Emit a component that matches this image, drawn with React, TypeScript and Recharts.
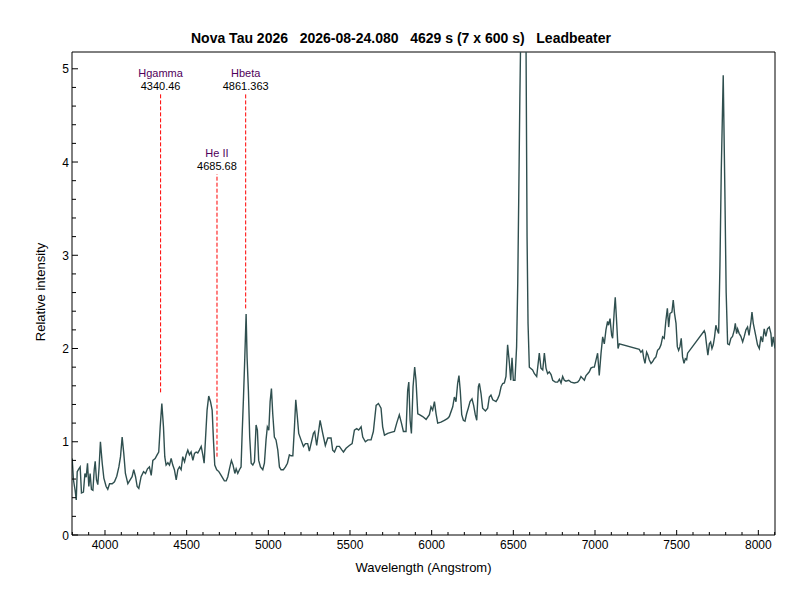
import React from 'react';
import { LineChart, Line, XAxis, YAxis, ReferenceLine } from 'recharts';

const FONT = '"Liberation Sans", Arial, sans-serif';
const TITLE = 'Nova Tau 2026   2026-08-24.080   4629 s (7 x 600 s)   Leadbeater';
const X_LABEL = 'Wavelength (Angstrom)';
const Y_LABEL = 'Relative intensity';

const X_MIN = 3798;
const X_MAX = 8102;
const Y_MIN = 0;
const Y_MAX = 5.18;

const X_MAJOR_TICKS = [4000, 4500, 5000, 5500, 6000, 6500, 7000, 7500, 8000];
const X_MINOR_STEP = 100;
const Y_MAJOR_TICKS = [0, 1, 2, 3, 4, 5];
const Y_MINOR_STEP = 0.2;

// layout
const CHART_W = 800;
const CHART_H = 600;
const MARGIN = { top: 52, right: 25, bottom: 0, left: 0 };
const Y_AXIS_W = 72;
const X_AXIS_H = 65;
const PLOT_LEFT = MARGIN.left + Y_AXIS_W;
const PLOT_BOTTOM = CHART_H - MARGIN.bottom - X_AXIS_H;

// Spectrum: wavelength (Angstrom) and relative intensity
const WAVELENGTH = [
  3799, 3807, 3817, 3824, 3830, 3840, 3848, 3856, 3868, 3877, 3885, 3893, 3901, 3909, 3917, 3926,
  3934, 3940, 3948, 3956, 3964, 3972, 3983, 3993, 4007, 4017, 4028, 4044, 4058, 4072, 4085, 4095,
  4105, 4115, 4125, 4140, 4154, 4166, 4176, 4187, 4197, 4207, 4221, 4236, 4248, 4260, 4272, 4283,
  4293, 4307, 4319, 4329, 4338, 4348, 4358, 4366, 4374, 4385, 4395, 4405, 4415, 4425, 4436, 4446,
  4456, 4466, 4476, 4487, 4497, 4507, 4517, 4527, 4538, 4548, 4558, 4568, 4578, 4589, 4599, 4607,
  4615, 4625, 4635, 4646, 4656, 4664, 4672, 4684, 4697, 4711, 4721, 4731, 4742, 4752, 4762, 4774,
  4784, 4795, 4803, 4813, 4823, 4833, 4839, 4848, 4856, 4864, 4870, 4878, 4886, 4895, 4905, 4915,
  4925, 4933, 4941, 4952, 4966, 4976, 4986, 4994, 5003, 5011, 5019, 5027, 5037, 5047, 5058, 5068,
  5078, 5092, 5105, 5117, 5129, 5139, 5150, 5160, 5168, 5176, 5186, 5200, 5215, 5227, 5241, 5251,
  5276, 5284, 5296, 5317, 5333, 5349, 5364, 5384, 5394, 5405, 5419, 5435, 5451, 5460, 5476, 5496,
  5513, 5527, 5541, 5553, 5568, 5578, 5594, 5609, 5629, 5643, 5660, 5674, 5690, 5700, 5711, 5731,
  5751, 5772, 5786, 5802, 5815, 5827, 5843, 5853, 5860, 5868, 5876, 5886, 5896, 5904, 5915, 5925,
  5945, 5966, 5986, 5996, 6006, 6017, 6027, 6037, 6057, 6078, 6098, 6108, 6129, 6139, 6149, 6159,
  6167, 6175, 6184, 6194, 6204, 6214, 6224, 6235, 6247, 6257, 6267, 6276, 6286, 6292, 6302, 6312,
  6329, 6343, 6353, 6363, 6374, 6394, 6404, 6414, 6425, 6435, 6445, 6455, 6465, 6476, 6484, 6492,
  6500, 6510, 6520, 6527, 6533, 6540, 6547, 6562, 6577, 6584, 6590, 6598, 6618, 6629, 6643, 6659,
  6669, 6680, 6690, 6700, 6710, 6720, 6731, 6741, 6757, 6771, 6782, 6792, 6802, 6812, 6822, 6839,
  6853, 6873, 6894, 6904, 6914, 6924, 6935, 6945, 6955, 6965, 6975, 6986, 6996, 7006, 7016, 7026,
  7037, 7047, 7057, 7067, 7077, 7083, 7092, 7102, 7108, 7118, 7124, 7132, 7141, 7149, 7271, 7281,
  7291, 7298, 7306, 7316, 7324, 7332, 7343, 7353, 7363, 7373, 7383, 7394, 7404, 7414, 7424, 7434,
  7443, 7451, 7459, 7471, 7479, 7487, 7496, 7504, 7512, 7520, 7528, 7536, 7545, 7553, 7561, 7567,
  7669, 7675, 7683, 7691, 7700, 7708, 7716, 7724, 7732, 7740, 7748, 7757, 7765, 7773, 7785, 7795,
  7803, 7812, 7822, 7832, 7842, 7853, 7859, 7867, 7873, 7883, 7893, 7904, 7914, 7924, 7934, 7943,
  7955, 7961, 7969, 7977, 7985, 7995, 8006, 8016, 8026, 8036, 8046, 8056, 8067, 8077, 8083, 8091,
  8102,
];

const INTENSITY = [
  0.82, 0.59, 0.48, 0.375, 0.68, 0.71, 0.73, 0.45, 0.46, 0.66, 0.62, 0.77, 0.52, 0.66, 0.49, 0.48,
  0.70, 0.79, 0.59, 0.54, 0.73, 1.00, 0.77, 0.61, 0.52, 0.49, 0.55, 0.55, 0.57, 0.63, 0.73, 0.84,
  1.05, 0.875, 0.66, 0.55, 0.59, 0.625, 0.70, 0.625, 0.52, 0.50, 0.625, 0.68, 0.66, 0.71, 0.73, 0.64,
  0.80, 0.82, 0.86, 0.89, 1.16, 1.41, 1.16, 0.84, 0.75, 0.775, 0.75, 0.82, 0.75, 0.70, 0.59, 0.70,
  0.73, 0.70, 0.84, 0.785, 0.86, 0.91, 0.86, 0.89, 0.80, 0.875, 0.89, 0.88, 0.91, 0.95, 0.86, 0.77,
  1.02, 1.34, 1.49, 1.43, 1.34, 1.02, 0.75, 0.70, 0.68, 0.64, 0.61, 0.58, 0.58, 0.625, 0.71, 0.80,
  0.75, 0.66, 0.71, 0.66, 0.70, 0.73, 1.05, 1.48, 1.91, 2.37, 1.90, 1.55, 1.05, 0.77, 0.75, 0.785,
  1.18, 1.125, 0.80, 0.73, 0.70, 0.77, 1.02, 1.16, 1.125, 1.43, 1.57, 1.30, 1.05, 1.02, 0.91, 0.73,
  0.70, 0.70, 0.73, 0.77, 0.86, 0.85, 0.85, 1.16, 1.45, 1.30, 1.09, 1.02, 0.95, 0.98, 0.98, 0.90,
  1.09, 1.11, 0.96, 1.23, 1.09, 0.96, 1.04, 1.04, 0.91, 0.89, 0.95, 0.95, 0.91, 0.89, 0.93, 0.96,
  0.98, 1.125, 1.14, 1.125, 1.16, 1.05, 1.00, 1.02, 1.02, 1.11, 1.39, 1.41, 1.36, 1.16, 1.07, 1.09,
  1.10, 1.11, 1.20, 1.29, 1.20, 1.11, 1.11, 1.55, 1.64, 1.23, 1.09, 1.59, 1.80, 1.66, 1.30, 1.29,
  1.27, 1.24, 1.29, 1.375, 1.34, 1.43, 1.30, 1.20, 1.21, 1.23, 1.25, 1.27, 1.375, 1.48, 1.43, 1.625,
  1.71, 1.55, 1.29, 1.23, 1.22, 1.30, 1.36, 1.43, 1.46, 1.39, 1.29, 1.23, 1.59, 1.625, 1.52, 1.36,
  1.33, 1.36, 1.48, 1.50, 1.45, 1.43, 1.46, 1.50, 1.59, 1.625, 1.63, 1.70, 2.04, 1.84, 1.66, 1.90,
  1.66, 1.66, 2.02, 2.7, 3.6, 4.7, 5.6, 9.0, 5.5, 3.2, 2.27, 1.80, 1.77, 1.73, 1.70, 1.95,
  1.79, 1.77, 1.95, 1.79, 1.73, 1.75, 1.72, 1.66, 1.64, 1.64, 1.67, 1.63, 1.70, 1.66, 1.65, 1.66,
  1.64, 1.63, 1.64, 1.66, 1.70, 1.68, 1.66, 1.71, 1.73, 1.75, 1.79, 1.80, 1.80, 1.875, 1.95, 1.71,
  1.95, 2.125, 2.05, 2.20, 2.29, 2.25, 2.32, 2.14, 2.11, 2.41, 2.55, 2.30, 2.00, 2.05, 1.99, 1.96,
  1.98, 1.90, 1.84, 1.96, 1.93, 1.88, 1.84, 1.86, 1.89, 1.91, 1.98, 2.00, 2.04, 2.125, 2.11, 2.30,
  2.43, 2.23, 2.375, 2.39, 2.52, 2.375, 2.27, 2.02, 1.98, 2.02, 2.11, 1.91, 1.84, 1.89, 1.88, 1.95,
  2.19, 2.16, 2.04, 1.93, 2.05, 2.07, 2.00, 2.04, 2.125, 2.25, 2.20, 2.16, 2.9, 3.9, 4.93, 3.7,
  2.6, 2.05, 2.04, 2.11, 2.13, 2.20, 2.27, 2.16, 2.21, 2.16, 2.13, 2.07, 2.13, 2.20, 2.23, 2.14,
  2.29, 2.39, 2.27, 2.20, 2.13, 2.04, 2.00, 2.13, 2.07, 2.21, 2.13, 2.21, 2.23, 2.16, 2.02, 2.125,
  2.00,
];

// Identified lines
const LINE_NAMES = ['Hgamma', 'He II', 'Hbeta'];
const LINE_WAVES = [4340.46, 4685.68, 4861.363];
const LINE_WAVE_LABELS = ['4340.46', '4685.68', '4861.363'];
const LINE_BOTTOM = [1.53, 0.84, 2.43];
const LINE_TOP = [4.73, 3.87, 4.73];

const data = WAVELENGTH.map((w, i) => ({ w, f: INTENSITY[i] }));

const xTicks: number[] = [];
for (let v = 3800; v <= 8100; v += X_MINOR_STEP) xTicks.push(v);
const yTicks: number[] = [];
for (let i = 0; i * Y_MINOR_STEP <= 5.0001; i++) yTicks.push(Math.round(i * Y_MINOR_STEP * 10) / 10);

const XTick = (props: any) => {
  const { x, payload } = props;
  const y = PLOT_BOTTOM;
  const v = payload.value;
  const major = X_MAJOR_TICKS.includes(v);
  return (
    <g>
      <line x1={x} x2={x} y1={y} y2={y - (major ? 5 : 3)} stroke="#000" strokeWidth={1} />
      {major && (
        <text x={x} y={y + 13.6} textAnchor="middle" fontSize={12} fontFamily={FONT} fill="#000">
          {v}
        </text>
      )}
    </g>
  );
};

const YTick = (props: any) => {
  const { y, payload } = props;
  const x = PLOT_LEFT;
  const v = payload.value;
  const major = Y_MAJOR_TICKS.some((m) => Math.abs(m - v) < 1e-6);
  return (
    <g>
      <line x1={x} x2={x + (major ? 6 : 4)} y1={y} y2={y} stroke="#000" strokeWidth={1} />
      {major && (
        <text x={x - 3} y={y + 4.6} textAnchor="end" fontSize={12} fontFamily={FONT} fill="#000">
          {v}
        </text>
      )}
    </g>
  );
};

const makeLineLabel = (i: number) => (props: any) => {
  const vb = props.viewBox || {};
  const cx = vb.x + (vb.width || 0) / 2;
  const top = vb.y;
  return (
    <g>
      <text x={cx} y={top - 17} textAnchor="middle" fontSize={11} fontFamily={FONT} fill="#50005a">
        {LINE_NAMES[i]}
      </text>
      <text x={cx} y={top - 4} textAnchor="middle" fontSize={11} fontFamily={FONT} fill="#000">
        {LINE_WAVE_LABELS[i]}
      </text>
    </g>
  );
};

const XLabel = (props: any) => {
  const vb = props.viewBox || { x: PLOT_LEFT, y: PLOT_BOTTOM, width: 703 };
  return (
    <text x={vb.x + vb.width / 2} y={PLOT_BOTTOM + 37} textAnchor="middle" fontSize={13} fontFamily={FONT} fill="#000">
      {X_LABEL}
    </text>
  );
};

const YLabel = () => (
  <text
    x={44.5}
    y={292}
    textAnchor="middle"
    fontSize={13}
    fontFamily={FONT}
    fill="#000"
    transform="rotate(-90 44.5 292)"
  >
    {Y_LABEL}
  </text>
);

export default function App() {
  return (
    <div style={{ position: 'absolute', left: 0, top: 0, width: CHART_W, height: CHART_H, background: '#fff' }}>
      <div
        style={{
          position: 'absolute',
          left: 0,
          top: 29,
          width: 802,
          textAlign: 'center',
          whiteSpace: 'pre',
          fontFamily: FONT,
          fontWeight: 'bold',
          fontSize: 14,
          lineHeight: '18px',
          color: '#000',
        }}
      >
        {TITLE}
      </div>
      <LineChart width={CHART_W} height={CHART_H} data={data} margin={MARGIN}>
        <XAxis
          type="number"
          dataKey="w"
          domain={[X_MIN, X_MAX]}
          allowDataOverflow
          ticks={xTicks}
          interval={0}
          tickSize={0}
          tickMargin={0}
          tickLine={false}
          tick={<XTick />}
          height={X_AXIS_H}
          axisLine={{ stroke: '#000', strokeWidth: 1 }}
          label={{ content: <XLabel /> }}
        />
        <YAxis
          type="number"
          domain={[Y_MIN, Y_MAX]}
          allowDataOverflow
          ticks={yTicks}
          interval={0}
          tickSize={0}
          tickMargin={0}
          tickLine={false}
          tick={<YTick />}
          width={Y_AXIS_W}
          axisLine={{ stroke: '#000', strokeWidth: 1 }}
          label={{ content: <YLabel /> }}
        />
        <ReferenceLine y={Y_MAX} stroke="#000" strokeWidth={1} ifOverflow="visible" />
        <ReferenceLine x={X_MAX} stroke="#000" strokeWidth={1} ifOverflow="visible" />
        {LINE_WAVES.map((w, i) => (
          <ReferenceLine
            key={LINE_NAMES[i]}
            segment={[
              { x: w, y: LINE_BOTTOM[i] },
              { x: w, y: LINE_TOP[i] },
            ]}
            stroke="#ff0000"
            strokeWidth={1}
            strokeDasharray="4 2"
            ifOverflow="visible"
            label={{ content: makeLineLabel(i) }}
          />
        ))}
        <Line
          type="linear"
          dataKey="f"
          stroke="#2f4f4f"
          strokeWidth={1.4}
          dot={false}
          activeDot={false}
          isAnimationActive={false}
        />
      </LineChart>
    </div>
  );
}
